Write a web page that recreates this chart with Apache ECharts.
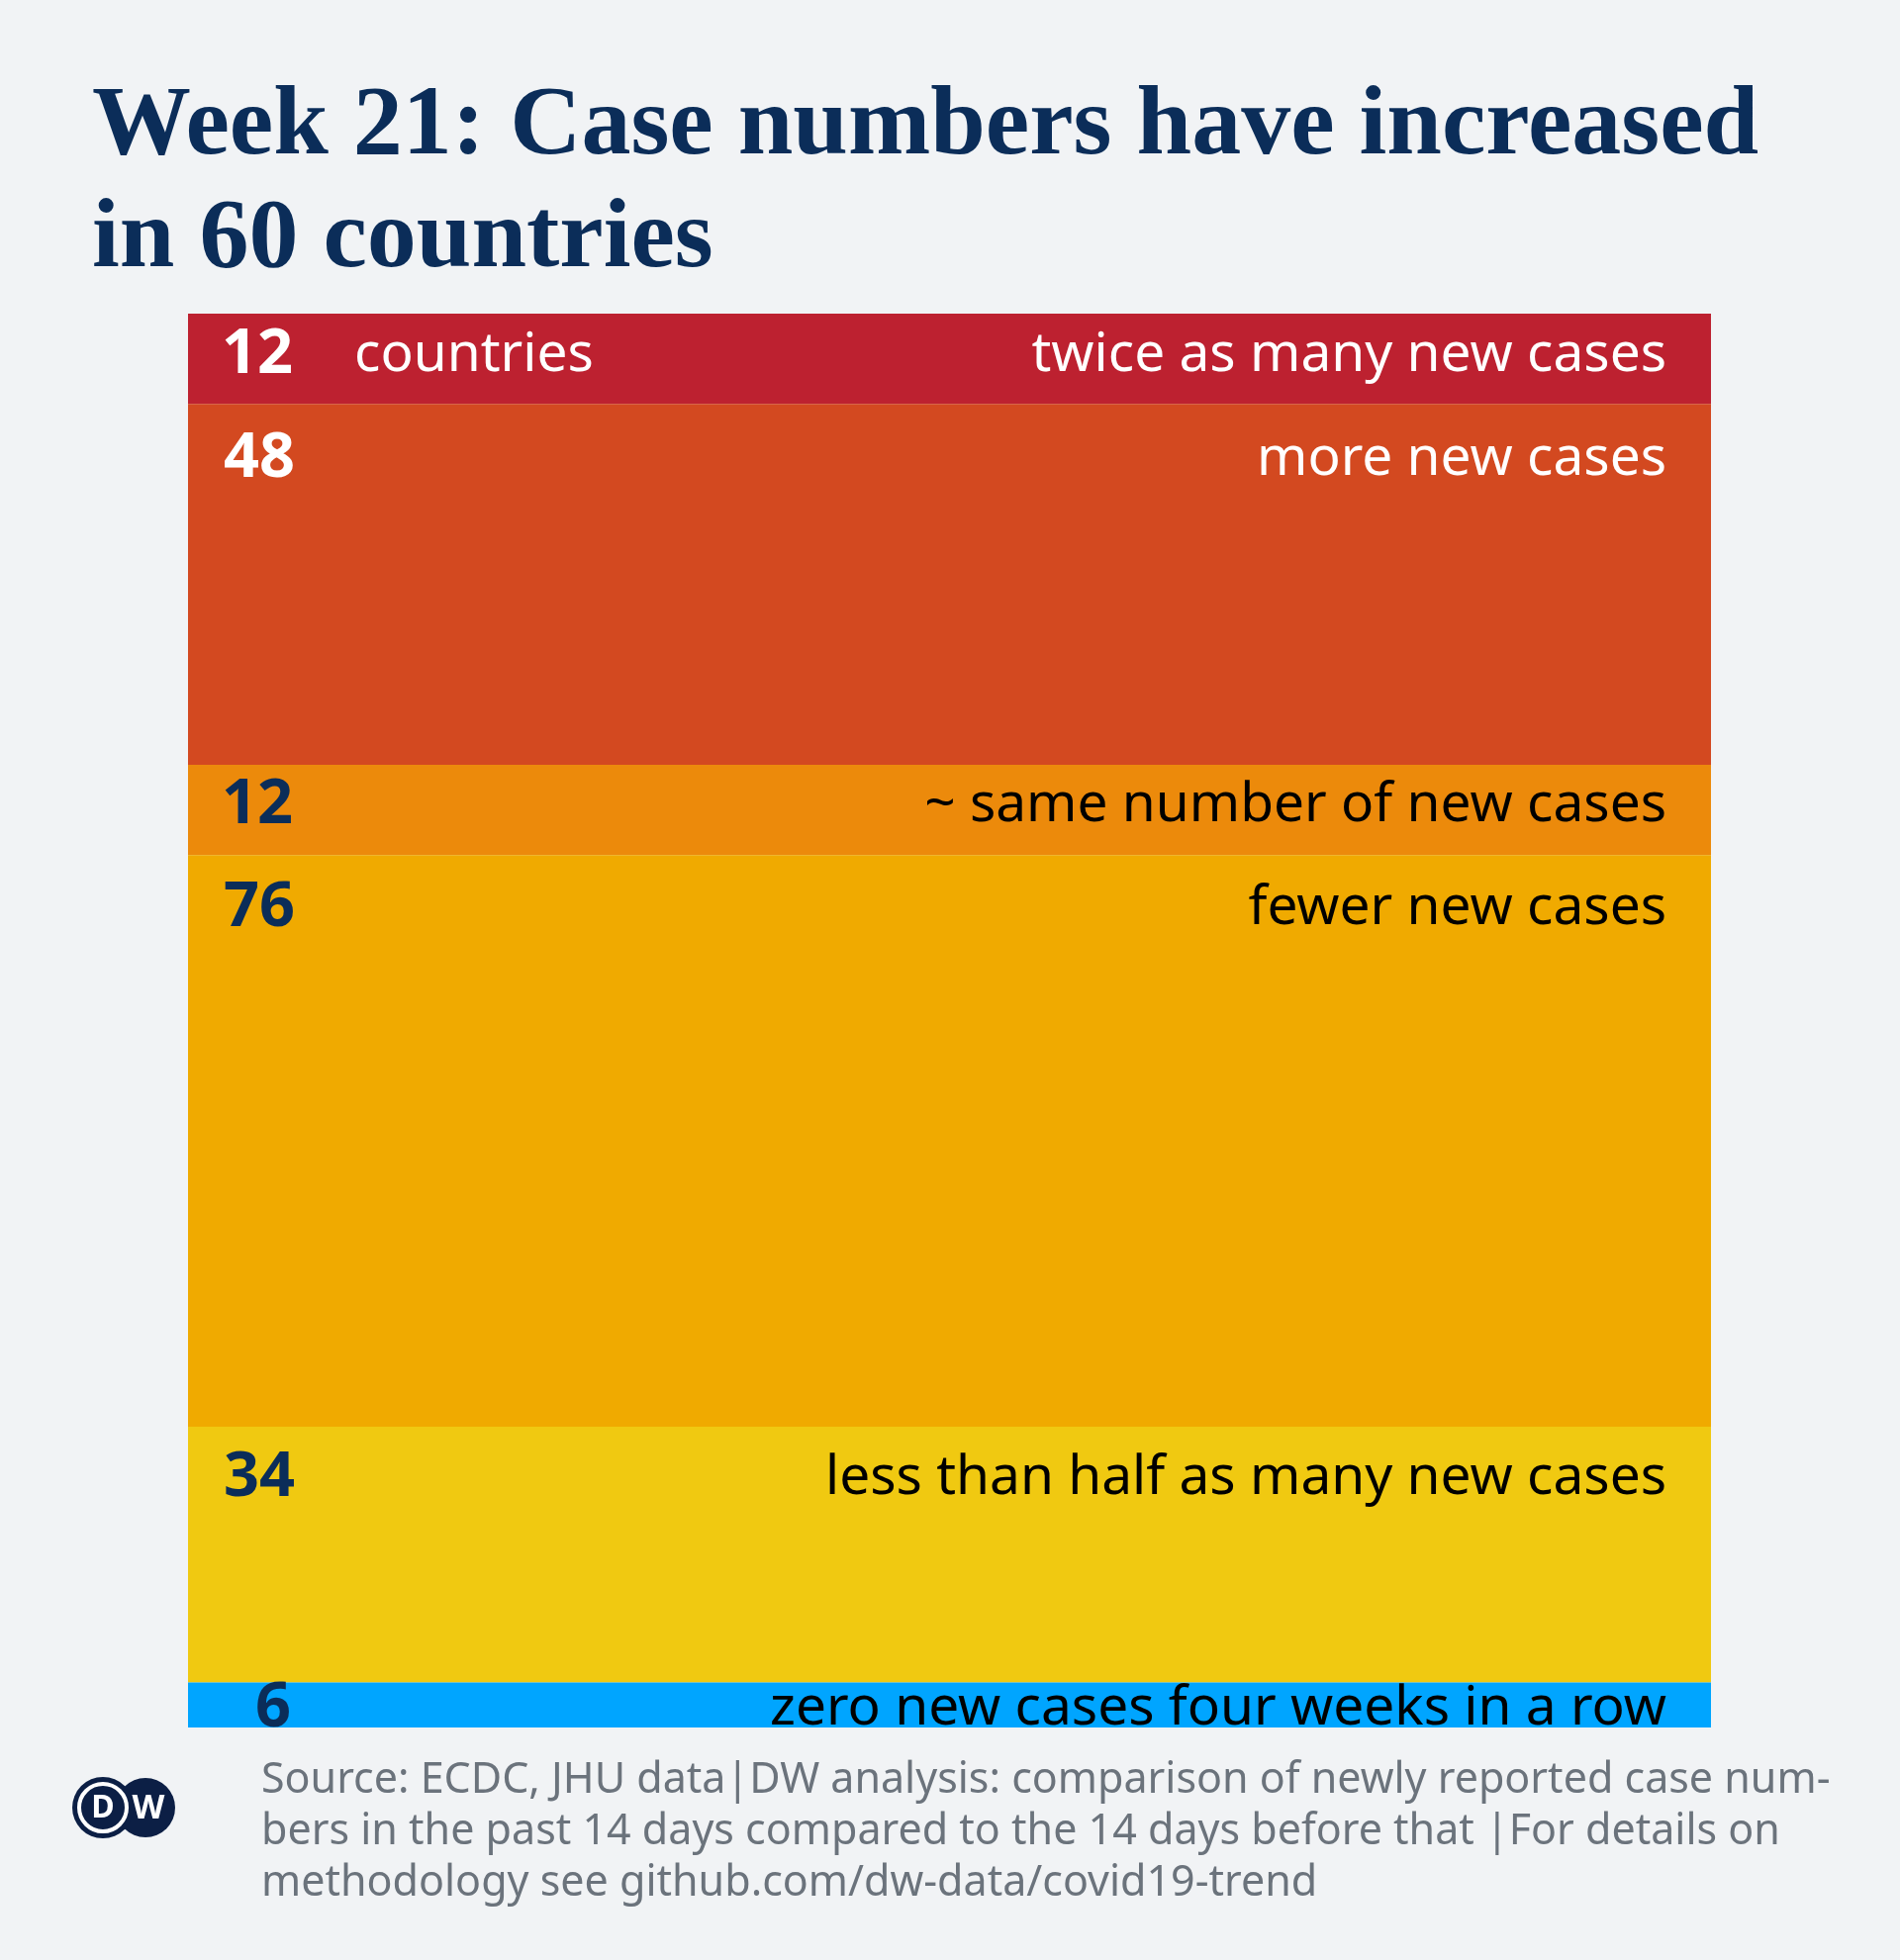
<!DOCTYPE html>
<html>
<head>
<meta charset="utf-8">
<script src="https://cdn.jsdelivr.net/npm/echarts@6/dist/echarts.min.js"></script>
<style>
html,body{margin:0;padding:0;background:#f1f3f5;}
#chart{width:1920px;height:1981px;}
</style>
</head>
<body>
<div id="chart"></div>
<script>
// ---- data ----
const categories = [
  'twice as many new cases',
  'more new cases',
  '~ same number of new cases',
  'fewer new cases',
  'less than half as many new cases',
  'zero new cases four weeks in a row'
];
const counts = [12, 48, 12, 76, 34, 6];
const unitLabel = 'countries';
const titleText = 'Week 21: Case numbers have increased\nin 60 countries';
const sourceLines = [
  'Source: ECDC, JHU data|DW analysis: comparison of newly reported case num-',
  'bers in the past 14 days compared to the 14 days before that |For details on',
  'methodology see github.com/dw-data/covid19-trend'
];

// ---- styles ----
const palette = ['#bd2130', '#d34920', '#ec8a0b', '#f0aa00', '#f0c911', '#00a5ff'];
const numColors = ['#ffffff', '#ffffff', '#0b2d59', '#0b2d59', '#0b2d59', '#0b2d59'];
const txtColors = ['#ffffff', '#ffffff', '#000000', '#000000', '#000000', '#000000'];
const labelY = [42, 56, 41, 54, 52, 27];
const numPadLeft = [34, 36, 34, 36, 36, 68];

const total = counts.reduce((a, b) => a + b, 0);
const barPixelWidth = 1539;

const series = counts.map((v, i) => ({
  type: 'bar',
  name: categories[i],
  stack: 'all',
  barWidth: '100%',
  data: [v],
  itemStyle: { color: palette[i] },
  emphasis: { disabled: true },
  label: {
    show: true,
    position: [0, labelY[i]],
    verticalAlign: 'middle',
    align: 'left',
    width: barPixelWidth - numPadLeft[i] - 45,
    padding: [0, 45, 0, numPadLeft[i]],
    formatter: () => i === 0
      ? '{num|' + counts[i] + '}{unit|' + unitLabel + '}{txt|' + categories[i] + '}'
      : '{num|' + counts[i] + '}{txt|' + categories[i] + '}',
    rich: {
      num: { fontFamily: 'Noto Sans', fontWeight: 'bold', fontSize: 63, color: numColors[i], lineHeight: 70 },
      unit: { fontFamily: 'Noto Sans', fontSize: 55, color: txtColors[i], padding: [0, 0, 0, 62], lineHeight: 70 },
      txt: { fontFamily: 'Noto Sans', fontSize: 55, color: txtColors[i], align: 'right', lineHeight: 70 }
    }
  }
}));

const chart = echarts.init(document.getElementById('chart'), null, { renderer: 'canvas' });
chart.setOption({
  backgroundColor: '#f1f3f5',
  animation: false,
  title: {
    text: titleText,
    left: 88,
    top: 67,
    textStyle: {
      fontFamily: 'Liberation Serif',
      fontWeight: 'bold',
      fontSize: 100,
      lineHeight: 114,
      color: '#0b2d59'
    }
  },
  grid: { left: 190, right: 191, top: 317, bottom: 235 },
  xAxis: { type: 'category', data: ['all'], show: false },
  yAxis: { type: 'value', inverse: true, min: 0, max: total, show: false },
  series: series,
  graphic: [
    { type: 'circle', shape: { cx: 147, cy: 1827, r: 30 }, style: { fill: '#0c1f45' } },
    { type: 'text', style: { x: 150, y: 1828, text: 'W', fill: '#ffffff', font: 'bold 34px "Noto Sans"', textAlign: 'center', textVerticalAlign: 'middle' } },
    { type: 'circle', shape: { cx: 104, cy: 1827, r: 31 }, style: { fill: '#0c1f45' } },
    { type: 'circle', shape: { cx: 104, cy: 1827, r: 24 }, style: { fill: 'none', stroke: '#ffffff', lineWidth: 4 } },
    { type: 'text', style: { x: 104, y: 1828, text: 'D', fill: '#ffffff', font: 'bold 32px "Noto Sans"', textAlign: 'center', textVerticalAlign: 'middle' } },
    {
      type: 'text', left: 264, top: 1774,
      style: {
        text: sourceLines.join('\n'),
        fill: '#6b737c',
        font: '43px "Noto Sans"',
        lineHeight: 52
      }
    }
  ]
});
</script>
</body>
</html>
